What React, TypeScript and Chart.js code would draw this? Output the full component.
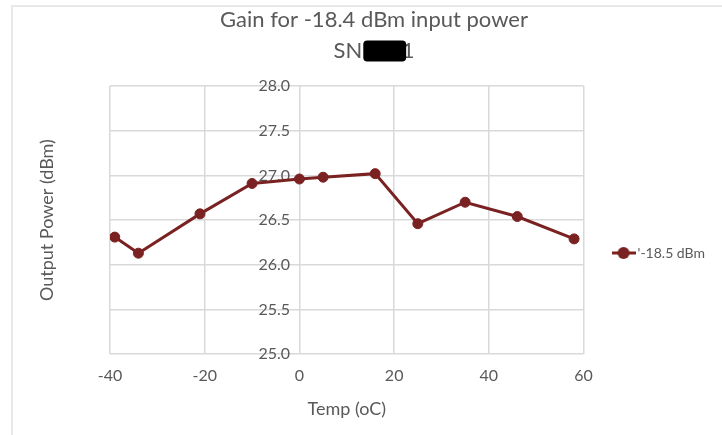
import React, { useEffect, useRef } from "react";
import { Chart, registerables } from "chart.js";

Chart.register(...registerables);

const temps = [-39, -34, -21, -10, 0, 5, 16, 25, 35, 46, 58];
const outputPower = [26.31, 26.13, 26.57, 26.91, 26.96, 26.98, 27.02, 26.46, 26.7, 26.54, 26.29];
const yTickValues = [25, 25.5, 26, 26.5, 27, 27.5, 28];
const seriesLabel = "'-18.5 dBm";
const titleLines = ["Gain for -18.4 dBm input power", "SN       1"];
const xTitle = "Temp (oC)";
const yTitle = "Output Power (dBm)";

const FONT = "Lato, 'Open Sans', sans-serif";
const TEXT = "#595959";
const GRID = "#d9d9d9";
const LINE = "#7a2222";

const TICK_SIZE = 16;
const LAYOUT_LEFT = 33;
const PLOT_LEFT = 110;
const YLABEL_RIGHT = 290;
const YTITLE_CENTER = 47;
const AXIS_TITLE_SIZE = 18;

function makeLegendIcon(): HTMLCanvasElement {
  const c = document.createElement("canvas");
  c.width = 24;
  c.height = 14;
  const g = c.getContext("2d")!;
  g.strokeStyle = LINE;
  g.lineWidth = 3;
  g.beginPath();
  g.moveTo(0, 7);
  g.lineTo(24, 7);
  g.stroke();
  g.fillStyle = LINE;
  g.beginPath();
  g.arc(12, 7, 6, 0, Math.PI * 2);
  g.fill();
  return c;
}

const redactPlugin = {
  id: "redact",
  afterDraw(chart: any) {
    const tb = chart.titleBlock;
    if (!tb) return;
    const ctx = chart.ctx;
    const opts = chart.options.plugins.title;
    const size = opts.font.size;
    const lh = size * opts.font.lineHeight;
    ctx.save();
    ctx.font = `${size}px ${FONT}`;
    const line = titleLines[1];
    const full = ctx.measureText(line).width;
    const cx = (tb.left + tb.right) / 2;
    const start = cx - full / 2;
    const snW = ctx.measureText("SN").width;
    const preW = ctx.measureText(line.slice(0, line.length - 1)).width;
    const oneW = ctx.measureText("1").width;
    const yc = tb.top + opts.padding.top + lh * 1.5;
    ctx.fillStyle = "#000";
    const x0 = start + snW + 1;
    const x1 = start + preW + oneW * 0.35;
    const h = size * 0.95;
    ctx.beginPath();
    if ((ctx as any).roundRect) {
      (ctx as any).roundRect(x0, yc - h / 2, x1 - x0, h, 4);
    } else {
      ctx.rect(x0, yc - h / 2, x1 - x0, h);
    }
    ctx.fill();
    ctx.restore();
  },
};

export default function App() {
  const ref = useRef<HTMLCanvasElement>(null);

  useEffect(() => {
    if (!ref.current) return;
    const icon = makeLegendIcon();

    // widest y tick label, so mirrored labels can be right-aligned next to x = 0
    const m = document.createElement("canvas").getContext("2d")!;
    m.font = `${TICK_SIZE}px ${FONT}`;
    const widest = Math.max(...yTickValues.map((v) => m.measureText(v.toFixed(1)).width));
    const tickPad = YLABEL_RIGHT - PLOT_LEFT - widest;
    const titleLH = AXIS_TITLE_SIZE * 1.2;
    const titleTop = YTITLE_CENTER - LAYOUT_LEFT - titleLH / 2;

    const chart = new Chart(ref.current, {
      type: "line",
      data: {
        datasets: [
          {
            label: seriesLabel,
            data: temps.map((t, i) => ({ x: t, y: outputPower[i] })),
            borderColor: LINE,
            backgroundColor: LINE,
            borderWidth: 3,
            pointRadius: 5,
            pointBorderWidth: 1,
            pointBackgroundColor: LINE,
            pointBorderColor: LINE,
            tension: 0,
          },
        ],
      },
      plugins: [redactPlugin],
      options: {
        responsive: false,
        animation: false,
        layout: { padding: { left: LAYOUT_LEFT, right: 7, top: 0, bottom: 13 } },
        font: { family: FONT },
        scales: {
          x: {
            type: "linear",
            min: -40,
            max: 60,
            ticks: {
              stepSize: 20,
              color: TEXT,
              font: { size: TICK_SIZE, family: FONT },
              padding: 12.5,
            },
            grid: { color: GRID, lineWidth: 1.5, drawTicks: false },
            border: { display: false },
            title: {
              display: true,
              text: xTitle,
              color: TEXT,
              font: { size: AXIS_TITLE_SIZE, family: FONT },
              padding: { top: 0, bottom: 2 },
            },
          },
          y: {
            type: "linear",
            position: "left",
            min: 25,
            max: 28,
            afterBuildTicks: (axis: any) => {
              axis.ticks = yTickValues.map((v) => ({ value: v }));
            },
            afterFit: (axis: any) => {
              axis.width = PLOT_LEFT - LAYOUT_LEFT;
              axis.paddingTop = 0;
              axis.paddingBottom = 0;
            },
            ticks: {
              color: TEXT,
              font: { size: TICK_SIZE, family: FONT },
              mirror: true,
              crossAlign: "far",
              padding: tickPad,
              callback: (v: any) => Number(v).toFixed(1),
            },
            grid: { color: GRID, lineWidth: 1.5, drawTicks: false },
            border: { display: false },
            title: {
              display: true,
              text: yTitle,
              color: TEXT,
              font: { size: AXIS_TITLE_SIZE, family: FONT },
              padding: { top: titleTop, bottom: 0 },
            },
          },
        },
        plugins: {
          title: {
            display: true,
            text: titleLines,
            color: TEXT,
            font: { size: 22, family: FONT, weight: "normal", lineHeight: 1.41 },
            padding: { top: 4.5, bottom: 19.5 },
          },
          legend: {
            position: "right",
            title: { display: true, text: "", padding: { top: 69.6, bottom: 0 } },
            labels: {
              usePointStyle: true,
              padding: 33,
              color: TEXT,
              font: { size: 14, family: FONT },
              generateLabels: () => [
                {
                  text: seriesLabel,
                  fillStyle: LINE,
                  strokeStyle: LINE,
                  lineWidth: 0,
                  pointStyle: icon,
                  hidden: false,
                  datasetIndex: 0,
                  fontColor: TEXT,
                },
              ],
            },
          },
          tooltip: { enabled: false },
        },
      },
    });
    return () => chart.destroy();
  }, []);

  return (
    <div style={{ position: "fixed", left: 0, top: 0, width: 722, height: 435, background: "#fff", overflow: "hidden" }}>
      <div
        style={{
          position: "absolute",
          left: 11,
          top: 5,
          width: 760,
          height: 480,
          borderTop: "2px solid #e8e8e8",
          borderLeft: "2px solid #e8e8e8",
        }}
      />
      <canvas ref={ref} width={722} height={435} style={{ position: "absolute", left: 0, top: 0 }} />
    </div>
  );
}
